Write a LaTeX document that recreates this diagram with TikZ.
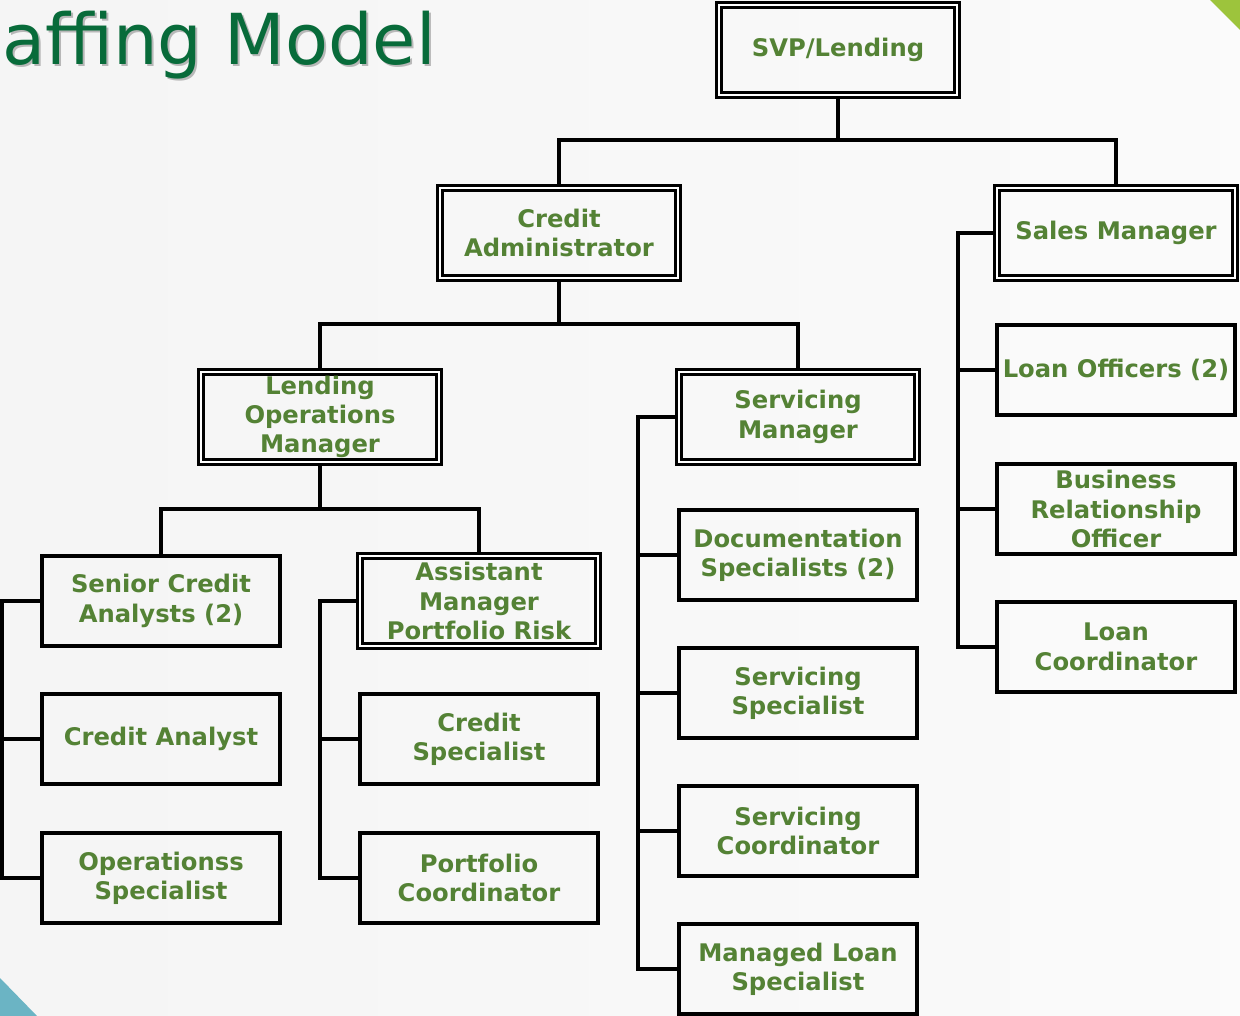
\documentclass[tikz,border=0pt]{standalone}
\usepackage{fontspec}
\setmainfont{DejaVu Sans}
\definecolor{titlegreen}{HTML}{086B3A}
\definecolor{rolegreen}{HTML}{548235}
\definecolor{grass}{HTML}{9DC43C}
\definecolor{lagoon}{HTML}{6BB4C4}
\definecolor{paper}{HTML}{F4F4F4}
\begin{document}
\begin{tikzpicture}[x=0.02cm,y=-0.02cm,
		post/.style={draw, line width=2pt, minimum width=4.76cm, minimum height=1.8cm,
			inner ysep=1pt, align=center, text=rolegreen,
			font=\bfseries\fontsize{13.8}{16.7}\selectfont},
		head/.style={post, double, line width=1.7pt, double distance=1.3pt},
		link/.style={line width=2pt}]
	% page
	\useasboundingbox (0,0) rectangle (1240,1016);
	\shade[left color=paper!80!gray!30, right color=paper!40!white] (0,0) rectangle (1240,1016);
	\fill[grass] (1210,0) -- (1240,0) -- (1240,30) -- cycle;
	\fill[lagoon] (0,978) -- (37,1016) -- (0,1016) -- cycle;
	\node[anchor=base west, text=black, opacity=0.25, font=\fontsize{40}{40}\selectfont] at (-2,67) {affing Model};
	\node[anchor=base west, text=titlegreen, font=\fontsize{40}{40}\selectfont] (title) at (-4,65) {affing Model};

	% boxes
	\node[head] (svp) at (838,50) {SVP/Lending};
	\node[head] (cadm) at (559,233) {Credit\\Administrator};
	\node[head] (sales) at (1116,233) {Sales Manager};
	\node[head] (lom) at (320,417) {Lending\\Operations\\Manager};
	\node[head] (svm) at (798,417) {Servicing\\Manager};
	\node[head] (amp) at (479,601) {Assistant\\Manager\\Portfolio Risk};

	\node[post] (lo) at (1116,370) {Loan Officers (2)};
	\node[post] (bro) at (1116,509) {Business\\Relationship\\Officer};
	\node[post] (lc) at (1116,647) {Loan\\Coordinator};

	\node[post] (doc) at (798,555) {Documentation\\Specialists (2)};
	\node[post] (ss) at (798,693) {Servicing\\Specialist};
	\node[post] (sc) at (798,831) {Servicing\\Coordinator};
	\node[post] (mls) at (798,969) {Managed Loan\\Specialist};

	\node[post] (sca) at (161,601) {Senior Credit\\Analysts (2)};
	\node[post] (ca) at (161,739) {Credit Analyst};
	\node[post] (ops) at (161,878) {Operationss\\Specialist};

	\node[post] (cs) at (479,739) {Credit\\Specialist};
	\node[post] (pc) at (479,878) {Portfolio\\Coordinator};

	% tree lines
	\coordinate (b1) at (0,140);
	\coordinate (b2) at (0,324);
	\coordinate (b3) at (0,509);
	\foreach \a\b in {svp/cadm,svp/sales}{
		\draw[link] (\a.south) -- (\a |- b1) -| (\b.north);
	}
	\foreach \a\b in {cadm/lom,cadm/svm}{
		\draw[link] (\a.south) -- (\a |- b2) -| (\b.north);
	}
	\foreach \a\b in {lom/sca,lom/amp}{
		\draw[link] (\a.south) -- (\a |- b3) -| (\b.north);
	}

	% side rails
	\coordinate (r1) at (2,0);
	\coordinate (r2) at (320,0);
	\coordinate (r3) at (638,0);
	\coordinate (r4) at (958,0);
	\draw[link] (sca.west) -- (sca.west -| r1) -- (ops.west -| r1) -- (ops.west);
	\draw[link] (ca.west) -- (ca.west -| r1);
	\draw[link] (amp.west) -- (amp.west -| r2) -- (pc.west -| r2) -- (pc.west);
	\draw[link] (cs.west) -- (cs.west -| r2);
	\draw[link] (svm.west) -- (svm.west -| r3) -- (mls.west -| r3) -- (mls.west);
	\foreach \n in {doc,ss,sc}{
		\draw[link] (\n.west) -- (\n.west -| r3);
	}
	\draw[link] (sales.west) -- (sales.west -| r4) -- (lc.west -| r4) -- (lc.west);
	\foreach \n in {lo,bro}{
		\draw[link] (\n.west) -- (\n.west -| r4);
	}
\end{tikzpicture}
\end{document}
